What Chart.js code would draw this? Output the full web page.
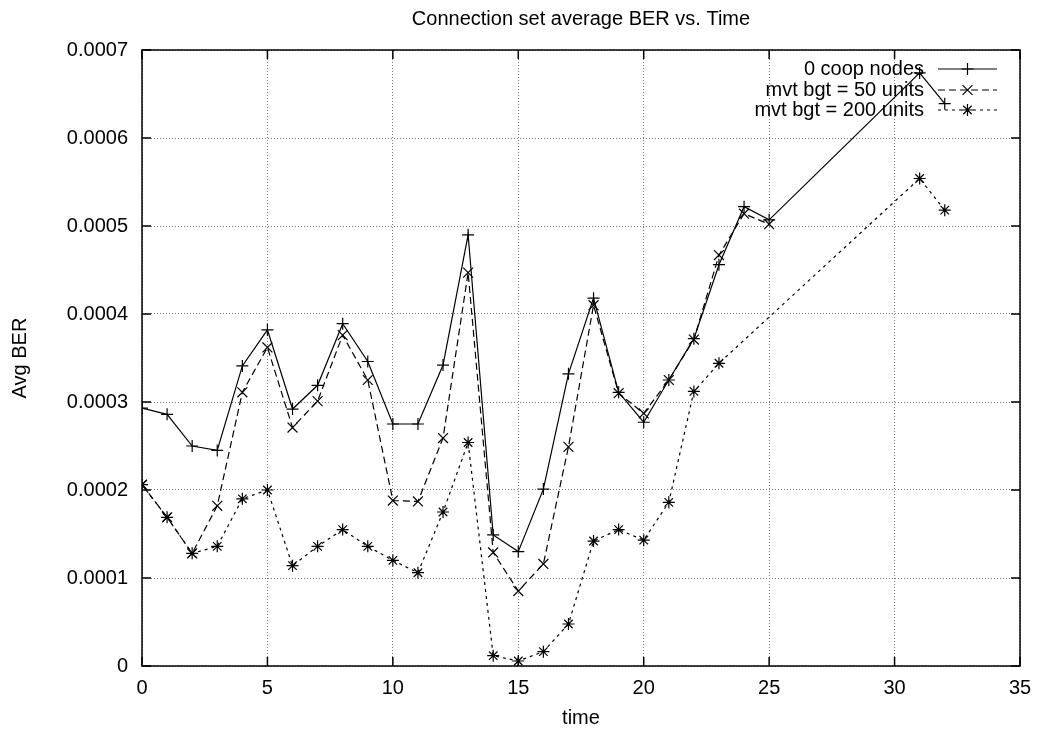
<!DOCTYPE html>
<html>
<head>
<meta charset="utf-8">
<script src="https://cdn.jsdelivr.net/npm/chart.js@4/dist/chart.umd.min.js"></script>
<style>
  html, body { margin: 0; padding: 0; background: #fff; }
  #wrap { width: 1043px; height: 731px; }
</style>
</head>
<body>
<div id="wrap"><canvas id="chart1" width="1043" height="731"></canvas></div>
<script>
// time axis values for each series
var timeCoop = [0, 1, 2, 3, 4, 5, 6, 7, 8, 9, 10, 11, 12, 13, 14, 15, 16, 17, 18, 19, 20, 21, 22, 23, 24, 25, 31, 32];
var time50 = [0, 1, 2, 3, 4, 5, 6, 7, 8, 9, 10, 11, 12, 13, 14, 15, 16, 17, 18, 19, 20, 21, 22, 23, 24, 25];
var time200 = [0, 1, 2, 3, 4, 5, 6, 7, 8, 9, 10, 11, 12, 13, 14, 15, 16, 17, 18, 19, 20, 21, 22, 23, 31, 32];

// avg BER values
var berCoop = [0.000293, 0.000286, 0.000250, 0.000245, 0.000341, 0.000382, 0.000292, 0.000319, 0.000389, 0.000346,
  0.000275, 0.000275, 0.000342, 0.000490, 0.000149, 0.000130, 0.000201, 0.000332, 0.000418, 0.000311,
  0.000277, 0.000325, 0.000372, 0.000456, 0.000522, 0.000507, 0.000674, 0.000639];
var ber50 = [0.000206, 0.000169, 0.000128, 0.000182, 0.000311, 0.000362, 0.000271, 0.000301, 0.000376, 0.000325,
  0.000188, 0.000187, 0.000259, 0.000447, 0.000129, 0.0000852, 0.000116, 0.000249, 0.000410, 0.000310,
  0.000287, 0.000325, 0.000371, 0.000467, 0.000514, 0.000502];
var ber200 = [0.000206, 0.000169, 0.000128, 0.000136, 0.000190, 0.000200, 0.000114, 0.000136, 0.000155, 0.000136,
  0.000120, 0.000106, 0.000175, 0.000254, 0.0000117, 0.0000057, 0.0000163, 0.0000477, 0.000142, 0.000155,
  0.000143, 0.000186, 0.000312, 0.000344, 0.000554, 0.000518];

var seriesNames = ['0 coop nodes', 'mvt bgt = 50 units', 'mvt bgt = 200 units'];
var xTicks = [0, 5, 10, 15, 20, 25, 30, 35];
var yTicks = [0, 0.0001, 0.0002, 0.0003, 0.0004, 0.0005, 0.0006, 0.0007];
var chartTitle = 'Connection set average BER vs. Time';

var FONT = '"Liberation Sans", Arial, Helvetica, sans-serif';

function pts(xs, ys) {
  return xs.map(function (x, i) { return { x: x, y: ys[i] }; });
}

function drawMark(ctx, style, x, y, r) {
  ctx.beginPath();
  if (style === 'cross' || style === 'star') {
    ctx.moveTo(x - r, y); ctx.lineTo(x + r, y);
    ctx.moveTo(x, y - r); ctx.lineTo(x, y + r);
  }
  if (style === 'crossRot' || style === 'star') {
    var d = r * 0.7071;
    ctx.moveTo(x - d, y - d); ctx.lineTo(x + d, y + d);
    ctx.moveTo(x - d, y + d); ctx.lineTo(x + d, y - d);
  }
  ctx.stroke();
}

// gnuplot style frame + inward ticks, title centred over the plot box
var framePlugin = {
  id: 'frame',
  beforeDatasetsDraw: function (chart) {
    var ctx = chart.ctx, a = chart.chartArea;
    var xs = chart.scales.x, ys = chart.scales.y;
    ctx.save();
    ctx.strokeStyle = '#000';
    ctx.lineWidth = 1.5;
    ctx.setLineDash([]);
    ctx.strokeRect(a.left, a.top, a.right - a.left, a.bottom - a.top);
    var len = 9;
    ctx.beginPath();
    yTicks.forEach(function (v) {
      var py = ys.getPixelForValue(v);
      ctx.moveTo(a.left, py); ctx.lineTo(a.left + len, py);
      ctx.moveTo(a.right, py); ctx.lineTo(a.right - len, py);
    });
    xTicks.forEach(function (v) {
      var px = xs.getPixelForValue(v);
      ctx.moveTo(px, a.bottom); ctx.lineTo(px, a.bottom - len);
      ctx.moveTo(px, a.top); ctx.lineTo(px, a.top + len);
    });
    ctx.stroke();

    ctx.font = '20px ' + FONT;
    ctx.fillStyle = '#000';
    ctx.textAlign = 'center';
    ctx.textBaseline = 'middle';
    ctx.fillText(chartTitle, (a.left + a.right) / 2, 19);
    ctx.restore();
  }
};

// key in the top right corner, text right aligned, sample on the right
var keyPlugin = {
  id: 'key',
  afterDatasetsDraw: function (chart) {
    var ctx = chart.ctx;
    var textRight = 924, lineL = 938, lineR = 997, rowY = [69, 90, 110];
    ctx.save();
    ctx.font = '20px ' + FONT;
    ctx.textAlign = 'right';
    ctx.textBaseline = 'middle';
    chart.data.datasets.forEach(function (ds, i) {
      var y = rowY[i];
      ctx.fillStyle = '#000';
      ctx.fillText(seriesNames[i], textRight, y);
      ctx.strokeStyle = '#000';
      ctx.lineWidth = ds.borderWidth;
      ctx.setLineDash(ds.borderDash || []);
      ctx.beginPath();
      ctx.moveTo(lineL, y); ctx.lineTo(lineR, y);
      ctx.stroke();
      ctx.setLineDash([]);
      drawMark(ctx, ds.pointStyle, (lineL + lineR) / 2, y, ds.pointRadius);
    });
    ctx.restore();
  }
};

var ctx1 = document.getElementById('chart1').getContext('2d');
var chart1 = new Chart(ctx1, {
  type: 'line',
  data: {
    datasets: [
      { label: seriesNames[0], data: pts(timeCoop, berCoop), borderColor: '#000', backgroundColor: '#000',
        borderWidth: 1.2, borderDash: [], pointStyle: 'cross', pointRadius: 6, pointBorderWidth: 1.2,
        pointBorderColor: '#000', fill: false, tension: 0 },
      { label: seriesNames[1], data: pts(time50, ber50), borderColor: '#000', backgroundColor: '#000',
        borderWidth: 1.2, borderDash: [7, 4], pointStyle: 'crossRot', pointRadius: 7, pointBorderWidth: 1.2,
        pointBorderColor: '#000', fill: false, tension: 0 },
      { label: seriesNames[2], data: pts(time200, ber200), borderColor: '#000', backgroundColor: '#000',
        borderWidth: 1.2, borderDash: [3, 4], pointStyle: 'star', pointRadius: 6, pointBorderWidth: 1.2,
        pointBorderColor: '#000', fill: false, tension: 0 }
    ]
  },
  options: {
    responsive: false,
    animation: false,
    layout: { padding: { left: 0, right: 23, top: 50, bottom: 0 } },
    plugins: {
      legend: { display: false },
      tooltip: { enabled: false },
      title: { display: false }
    },
    scales: {
      x: {
        type: 'linear',
        min: 0, max: 35,
        afterFit: function (s) { s.height = 65; },
        afterBuildTicks: function (s) { s.ticks = xTicks.map(function (v) { return { value: v }; }); },
        ticks: { color: '#000', padding: 10, font: { family: FONT, size: 20 } },
        grid: { color: '#777', lineWidth: 1, drawTicks: false },
        border: { display: false, dash: [1, 2] },
        title: { display: true, text: 'time', color: '#000', font: { family: FONT, size: 20 }, padding: { top: 0, bottom: 1 } }
      },
      y: {
        type: 'linear',
        min: 0, max: 0.0007,
        afterFit: function (s) { s.width = 142; },
        afterBuildTicks: function (s) { s.ticks = yTicks.map(function (v) { return { value: v }; }); },
        ticks: {
          color: '#000', padding: 14, font: { family: FONT, size: 20 },
          callback: function (v) { return v === 0 ? '0' : v.toFixed(4); }
        },
        grid: { color: '#777', lineWidth: 1, drawTicks: false },
        border: { display: false, dash: [1, 2] },
        title: { display: true, text: 'Avg BER', color: '#000', font: { family: FONT, size: 20 }, padding: { top: 8, bottom: 0 } }
      }
    }
  },
  plugins: [framePlugin, keyPlugin]
});
</script>
</body>
</html>
